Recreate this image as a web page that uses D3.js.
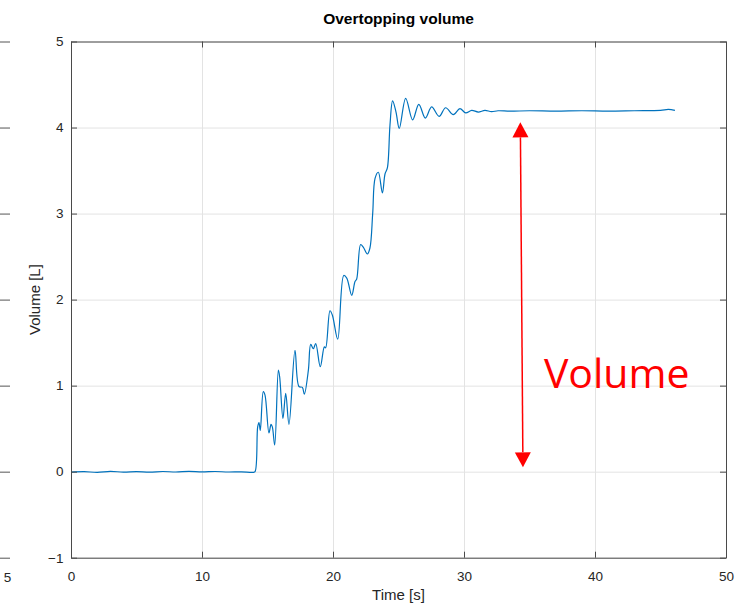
<!DOCTYPE html>
<html>
<head>
<meta charset="utf-8">
<script src="https://cdn.jsdelivr.net/npm/d3@7"></script>
<style>
  body { margin: 0; background: #fff; }
  svg { display: block; font-family: "Liberation Sans", Arial, Helvetica, sans-serif; }
</style>
</head>
<body>
<div id="chart"></div>
<script>
// time [s] and overtopping volume [L]
const time = [0, 1, 2, 3, 4, 5, 6, 7, 8, 9, 10, 11, 12, 13, 13.9, 14.05,
  14.25, 14.35, 14.45, 14.68, 14.81, 15.11, 15.27, 15.37, 15.55, 15.83, 15.93,
  16.18, 16.39, 16.64, 17.1, 17.4, 17.66, 17.81, 18.12, 18.3, 18.5, 18.68,
  19.03, 19.34, 19.44, 19.77, 19.95, 20.36, 20.82, 21.05, 21.43, 21.68, 21.81,
  22.11, 22.31, 22.62, 22.82, 23.03, 23.21, 23.46, 23.77, 23.97, 24.15, 24.35,
  24.55, 24.81, 25.06, 25.55, 26.08, 26.55, 27.05, 27.53, 28.1, 28.6, 29.18,
  29.69, 30.13, 30.59, 31.09, 31.6, 32.1, 32.6, 33.5, 35, 37, 39, 41, 43, 45,
  45.6, 46.1];
const volume = [-0.005, 0, -0.008, 0.003, -0.005, 0, -0.006, 0.002, -0.004, 0.003, -0.003, 0.002, -0.004, -0.002, -0.008, 0,
  0.52, 0.57, 0.48, 0.93, 0.89, 0.45, 0.55, 0.52, 0.31, 1.18, 1.1,
  0.62, 0.91, 0.55, 1.41, 0.99, 0.98, 0.9, 1.18, 1.48, 1.43, 1.49,
  1.22, 1.45, 1.44, 1.87, 1.82, 1.54, 2.28, 2.25, 2.05, 2.21, 2.24,
  2.64, 2.61, 2.53, 2.6, 3.0, 3.41, 3.48, 3.24, 3.46, 3.53, 4.03,
  4.31, 4.18, 3.99, 4.34, 4.09, 4.27, 4.11, 4.24, 4.13, 4.23, 4.15,
  4.22, 4.17, 4.2, 4.18, 4.2, 4.185, 4.195, 4.19, 4.195, 4.19, 4.195, 4.19, 4.195, 4.2,
  4.21, 4.2];

const xTicks = [0, 10, 20, 30, 40, 50];
const yTicks = [-1, 0, 1, 2, 3, 4, 5];

// red double arrow annotation (data coords) and its label
const arrowEnds = [[34.3, 4.06], [34.5, 0.05]];
const noteText = "Volume";
const notePos = [36.1, 0.97];

const width = 743;
const height = 610;
const margin = { top: 41.5, right: 17, bottom: 52.3, left: 71 };

const svg = d3.select('#chart')
  .append('svg')
  .attr('width', width)
  .attr('height', height);

const x = d3.scaleLinear()
  .domain([0, 50])
  .range([margin.left, width - margin.right]);

const y = d3.scaleLinear()
  .domain([-1, 5])
  .range([height - margin.bottom, margin.top]);

const pw = x(50) - x(0);
const ph = y(-1) - y(5);

// grid
svg.append("g")
  .attr("transform", `translate(0,${y(-1)})`)
  .call(d3.axisBottom(x).tickValues(xTicks).tickSize(-ph).tickFormat(""))
  .call(g => g.select(".domain").remove())
  .call(g => g.selectAll("line").attr("stroke", "#e3e3e3"));

svg.append("g")
  .attr("transform", `translate(${x(0)},0)`)
  .call(d3.axisLeft(y).tickValues(yTicks).tickSize(-pw).tickFormat(""))
  .call(g => g.select(".domain").remove())
  .call(g => g.selectAll("line").attr("stroke", "#e3e3e3"));

// data line
const data = time.map((t, i) => ({ t: t, v: volume[i] }));
const line = d3.line()
  .x(d => x(d.t))
  .y(d => y(d.v))
  .curve(d3.curveCatmullRom.alpha(0.5));

svg.append("path")
  .datum(data)
  .attr("fill", "none")
  .attr("stroke", "#0072BD")
  .attr("stroke-width", 1.2)
  .attr("d", line);

// axes, ticks pointing inward
const axisColor = "#262626";
const fmt = d3.format("d");
function styleAxis(g) {
  g.attr("font-size", "13.5px").attr("font-family", null);
  g.select(".domain").attr("stroke", "#4a4a4a");
  g.selectAll(".tick line").attr("stroke", "#4a4a4a");
  g.selectAll("text").attr("fill", axisColor);
}

svg.append("g")
  .attr("transform", `translate(0,${y(-1)})`)
  .call(d3.axisBottom(x).tickValues(xTicks).tickFormat(fmt).tickSizeInner(-6).tickSizeOuter(0).tickPadding(14))
  .call(styleAxis);

svg.append("g")
  .attr("transform", `translate(0,${y(5)})`)
  .call(d3.axisTop(x).tickValues(xTicks).tickSizeInner(-6).tickSizeOuter(0).tickFormat(""))
  .call(styleAxis);

svg.append("g")
  .attr("transform", `translate(${x(0)},0)`)
  .call(d3.axisLeft(y).tickValues(yTicks).tickFormat(fmt).tickSizeInner(-6).tickSizeOuter(0).tickPadding(7.5))
  .call(styleAxis);

svg.append("g")
  .attr("transform", `translate(${x(50)},0)`)
  .call(d3.axisRight(y).tickValues(yTicks).tickSizeInner(-6).tickSizeOuter(0).tickFormat(""))
  .call(styleAxis);

// leftover ticks of the neighbouring figure at the left edge
svg.append("g")
  .attr("transform", "translate(10,0)")
  .call(d3.axisLeft(y).tickValues(yTicks).tickSize(10).tickFormat(""))
  .call(g => g.select(".domain").remove())
  .call(g => g.selectAll("line").attr("stroke", "#555"));

svg.append("text")
  .attr("x", 7.5)
  .attr("y", 582)
  .attr("text-anchor", "middle")
  .attr("font-size", "13.5px")
  .attr("fill", axisColor)
  .text("5");

// title and labels
svg.append("text")
  .attr("x", (x(0) + x(50)) / 2)
  .attr("y", 24)
  .attr("text-anchor", "middle")
  .attr("font-size", "15.5px")
  .attr("font-weight", "bold")
  .attr("fill", "#000")
  .text("Overtopping volume");

svg.append("text")
  .attr("x", (x(0) + x(50)) / 2)
  .attr("y", 600)
  .attr("text-anchor", "middle")
  .attr("font-size", "15px")
  .attr("fill", axisColor)
  .text("Time [s]");

svg.append("text")
  .attr("transform", `translate(40,${(y(5) + y(-1)) / 2}) rotate(-90)`)
  .attr("text-anchor", "middle")
  .attr("font-size", "15px")
  .attr("fill", axisColor)
  .text("Volume [L]");

// annotation arrow
const [p0, p1] = arrowEnds.map(d => [x(d[0]), y(d[1])]);
const ang = Math.atan2(p1[1] - p0[1], p1[0] - p0[0]);
const headLen = 15, headHalf = 8;
function head(tip, a) {
  const bx = tip[0] - headLen * Math.cos(a), by = tip[1] - headLen * Math.sin(a);
  const nx = -Math.sin(a) * headHalf, ny = Math.cos(a) * headHalf;
  return [tip, [bx + nx, by + ny], [bx - nx, by - ny]];
}
svg.append("line")
  .attr("x1", p0[0] + headLen * Math.cos(ang))
  .attr("y1", p0[1] + headLen * Math.sin(ang))
  .attr("x2", p1[0] - headLen * Math.cos(ang))
  .attr("y2", p1[1] - headLen * Math.sin(ang))
  .attr("stroke", "#ff0000")
  .attr("stroke-width", 1.5);
svg.append("polygon")
  .attr("points", head(p1, ang).join(" "))
  .attr("fill", "#ff0000");
svg.append("polygon")
  .attr("points", head(p0, ang + Math.PI).join(" "))
  .attr("fill", "#ff0000");

svg.append("text")
  .attr("x", x(notePos[0]))
  .attr("y", y(notePos[1]))
  .attr("font-family", "'Open Sans', 'Noto Sans', sans-serif")
  .attr("font-size", "41px")
  .attr("fill", "#ff0000")
  .text(noteText);
</script>
</body>
</html>
